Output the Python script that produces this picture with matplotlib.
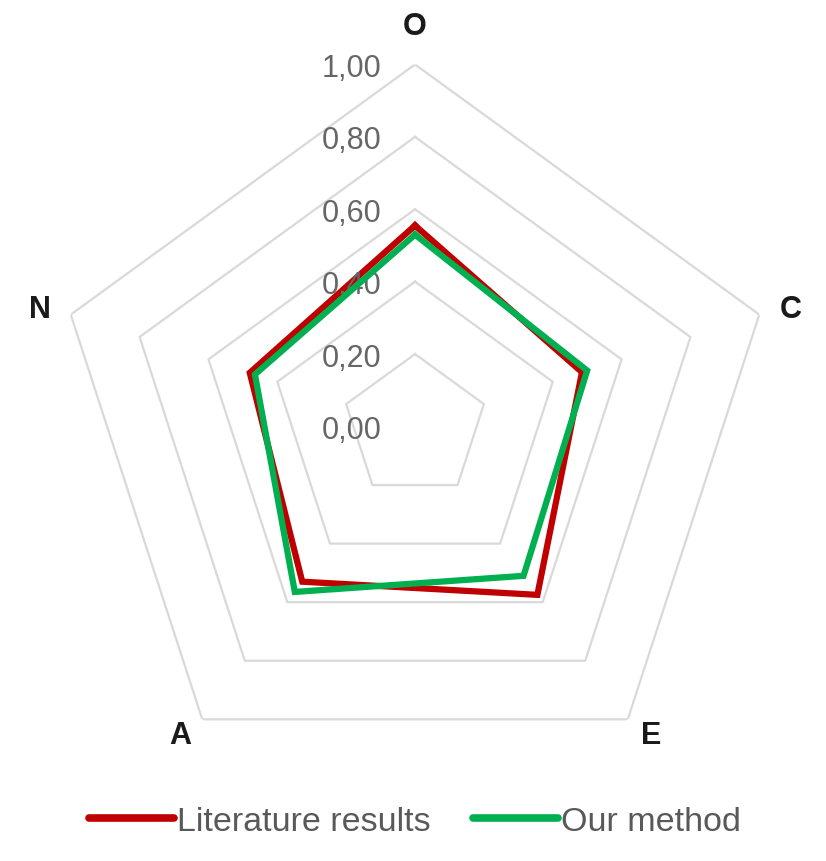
import numpy as np
import matplotlib
matplotlib.use('Agg')
import matplotlib.pyplot as plt

# radar data
categories = ['O', 'C', 'E', 'A', 'N']
literature = [0.555, 0.485, 0.575, 0.53, 0.48]
ours = [0.53, 0.50, 0.51, 0.565, 0.465]
ticks = [0.0, 0.2, 0.4, 0.6, 0.8, 1.0]
tick_labels = ['0,00', '0,20', '0,40', '0,60', '0,80', '1,00']

plt.rcParams['font.family'] = ['Liberation Sans', 'DejaVu Sans']

fig = plt.figure(figsize=(8.26, 8.62), dpi=100)
ax = fig.add_axes([0.0642, 0.0841, 0.8765, 0.840], polar=True)
ax.set_theta_offset(np.pi / 2)
ax.set_theta_direction(-1)
ax.set_ylim(0, 1)
ax.grid(False)
ax.spines['polar'].set_visible(False)
ax.set_xticks([])
ax.set_yticks([])

n = len(categories)
ang = np.linspace(0, 2 * np.pi, n, endpoint=False)
ang_c = np.append(ang, ang[0])

# pentagon gridlines
for t in ticks[1:]:
    ax.plot(ang_c, [t] * (n + 1), color='#d9d9d9', lw=1.6, zorder=1)

def closed(v):
    return list(v) + [v[0]]

ax.plot(ang_c, closed(literature), color='#c00000', lw=4.5, zorder=3,
        solid_joinstyle='miter', label='Literature results')
ax.plot(ang_c, closed(ours), color='#00b050', lw=4.5, zorder=4,
        solid_joinstyle='miter', label='Our method')

# value labels left of the top spoke
for t, lab in zip(ticks, tick_labels):
    ax.annotate(lab, xy=(0, t), xytext=(-24, -2.5), textcoords='offset points',
                ha='right', va='center', fontsize=22, color='#666666')

# category labels
offsets = {'O': (0, 28), 'C': (23, 4), 'E': (17, -11), 'A': (-16, -11), 'N': (-22, 4)}
for a, c in zip(ang, categories):
    ax.annotate(c, xy=(a, 1), xytext=offsets[c], textcoords='offset points',
                ha='center', va='center', fontsize=22, fontweight='bold', color='#1a1a1a')

leg = ax.legend(loc='center', bbox_to_anchor=(0.5, -0.045), ncol=2, frameon=False,
                fontsize=24.5, handlelength=2.5, handletextpad=0.09, columnspacing=1.26)
for t in leg.get_texts():
    t.set_color('#595959')
for l in leg.get_lines():
    l.set_solid_capstyle('round')
    l.set_linewidth(5.5)

fig.savefig('out.png', dpi=100)
